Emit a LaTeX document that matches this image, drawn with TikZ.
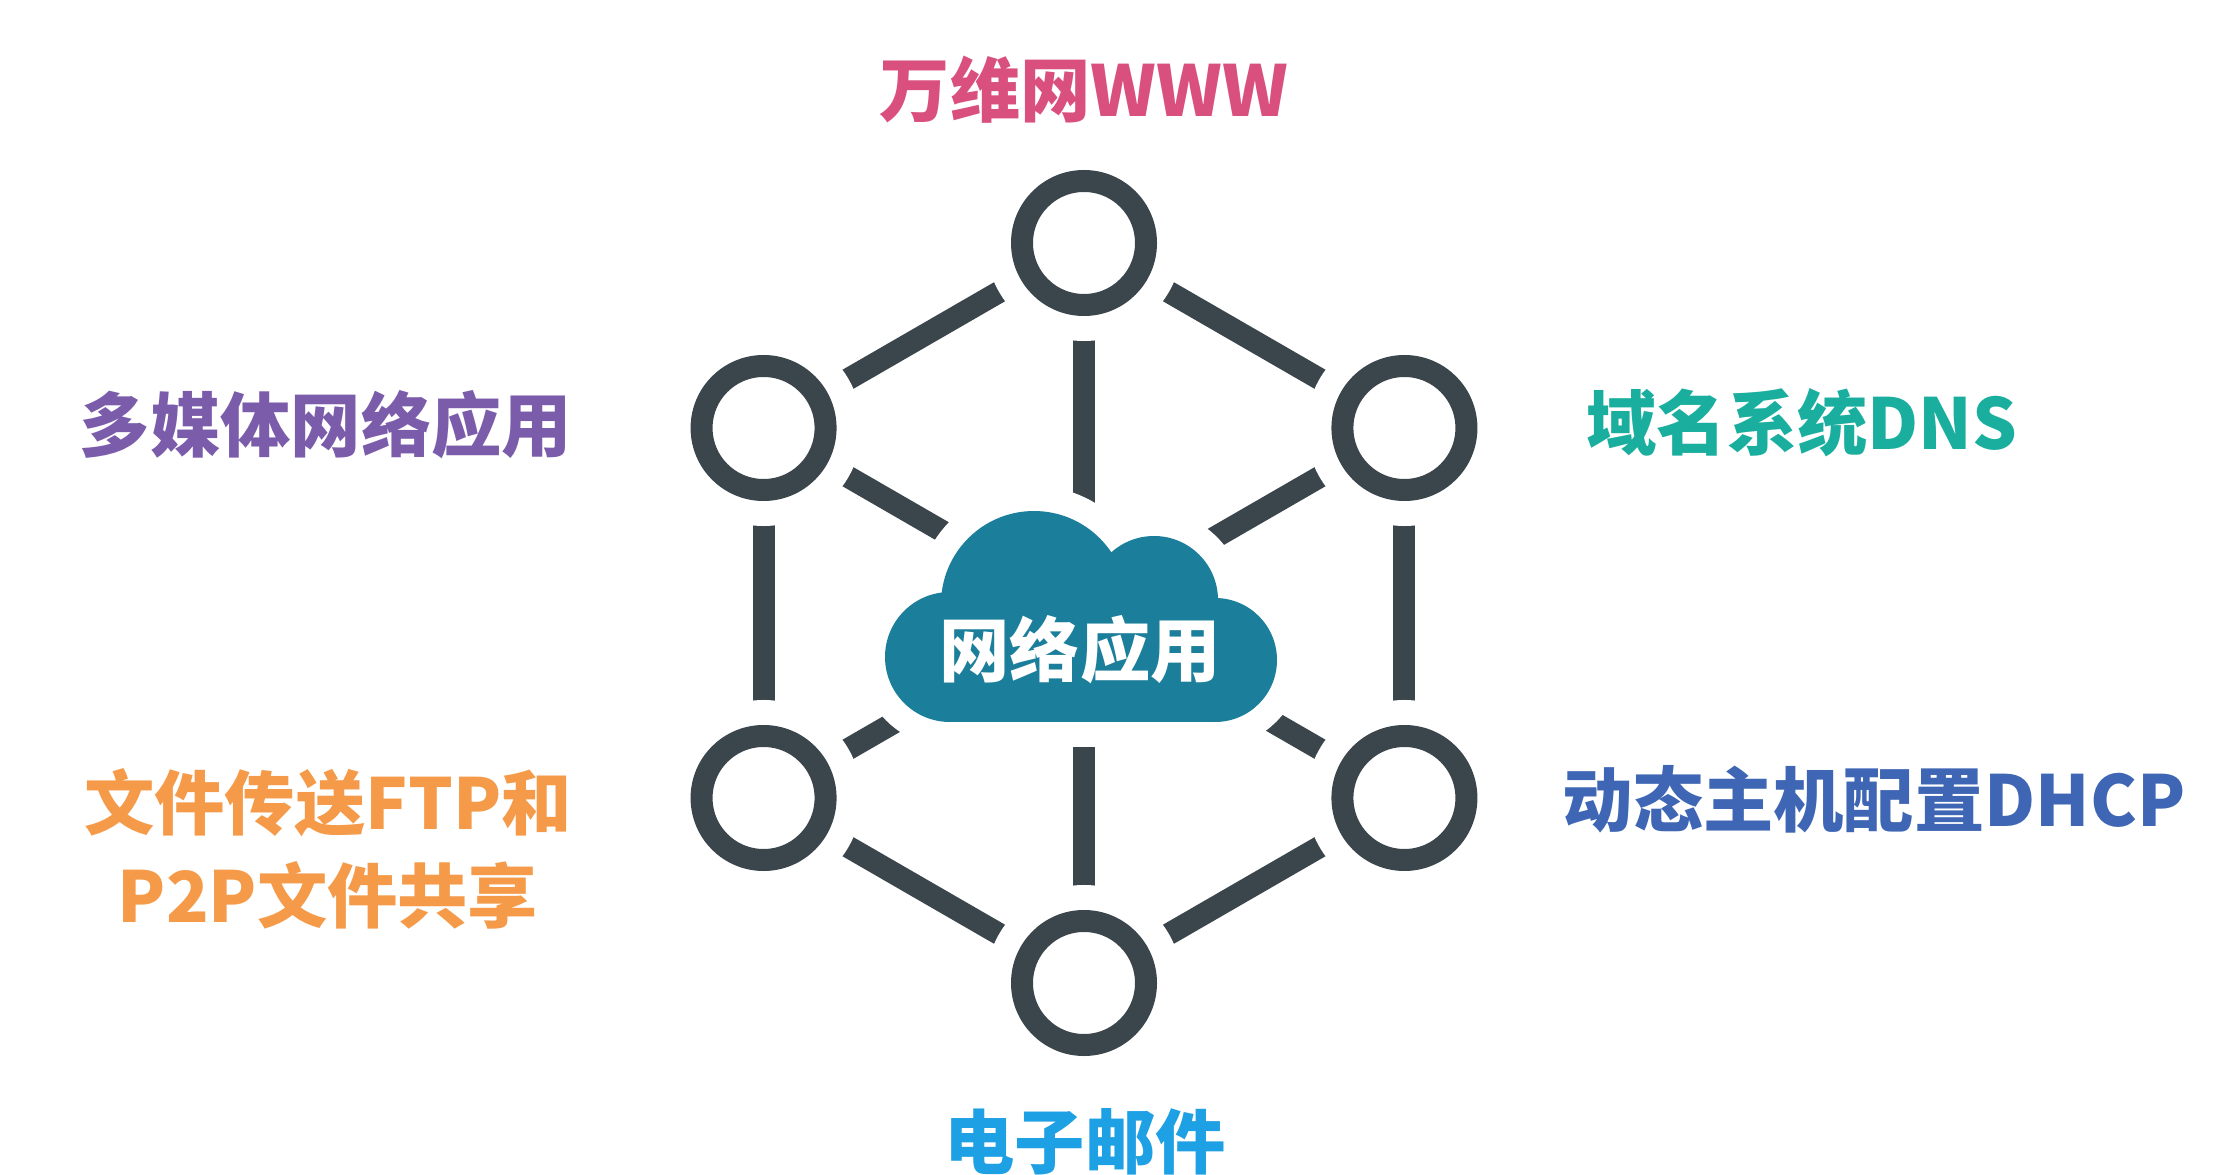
\documentclass[tikz,border=0pt]{standalone}
\usepackage{fontspec}
\newfontfamily\cjk{Noto Sans CJK SC}
\usetikzlibrary{backgrounds}
\definecolor{ringgray}{HTML}{3B454C}
\definecolor{cloudblue}{HTML}{1B7E9B}
\definecolor{wwwpink}{HTML}{D94F7E}
\definecolor{mediapurple}{HTML}{7B5CAA}
\definecolor{dnsteal}{HTML}{1AAE9E}
\definecolor{ftporange}{HTML}{F59A48}
\definecolor{dhcpblue}{HTML}{3E66B4}
\definecolor{mailblue}{HTML}{1EA0E4}
\tikzstyle{ring} = [circle,draw=ringgray,line width=0.22cm,fill=white,minimum size=1.24cm,inner sep=0pt,outer sep=0pt,preaction={draw=white,line width=0.72cm}]
\tikzstyle{link} = [draw=ringgray,line width=0.22cm]
\tikzstyle{apptext} = [font=\cjk\bfseries\fontsize{20pt}{26.5pt}\selectfont,align=center,inner sep=0pt]

\begin{document}
\begin{tikzpicture}
\useasboundingbox (0,0) rectangle (22.16,11.74);
\coordinate (hub) at (10.84,5.61);

\foreach \n/\a in {t/90,ur/30,lr/-30,b/-90,ll/-150,ul/150}
{
\node[ring] (\n) at ([shift={(\a:3.7)}]hub) {};
}

\foreach \x/\y/\r in {10.34/5.70/0.93,11.54/5.74/0.64,9.50/5.17/0.65,12.15/5.14/0.62}
{
\draw[white,fill=white,line width=0.5cm] (\x,\y) circle (\r);
}
\draw[white,fill=white,line width=0.5cm] (9.50,4.52) rectangle (12.15,5.74);
\foreach \x/\y/\r in {10.34/5.70/0.93,11.54/5.74/0.64,9.50/5.17/0.65,12.15/5.14/0.62}
{
\fill[cloudblue] (\x,\y) circle (\r);
}
\fill[cloudblue] (9.50,4.52) rectangle (12.15,5.74);
\node[apptext,white] (app) at (10.80,5.24) {网络应用};

\node[apptext,wwwpink] (www) at (10.84,10.84) {万维网WWW};
\node[apptext,mediapurple] (media) at (3.26,7.49) {多媒体网络应用};
\node[apptext,dnsteal] (dns) at (18.02,7.51) {域名系统DNS};
\node[apptext,ftporange] (ftp) at (3.28,3.25) {文件传送FTP和\\P2P文件共享};
\node[apptext,dhcpblue] (dhcp) at (18.74,3.75) {动态主机配置DHCP};
\node[apptext,mailblue] (mail) at (10.85,0.32) {电子邮件};

\begin{scope}[on background layer]
\fill[white] (0,0) rectangle (22.16,11.74);
\foreach \p/\q in {t/ur,ur/lr,lr/b,b/ll,ll/ul,ul/t}
{
\draw[link] (\p.center) -- (\q.center);
}
\foreach \p in {t,ur,lr,b,ll,ul}
{
\draw[link] (\p.center) -- (hub);
}
\end{scope}

\end{tikzpicture}
\end{document}
